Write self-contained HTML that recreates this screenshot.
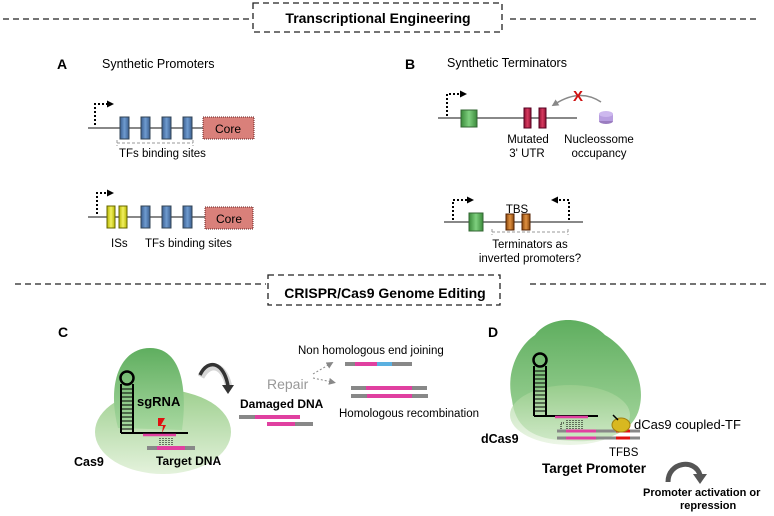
<!DOCTYPE html>
<html><head><meta charset="utf-8"><style>body{margin:0;background:#fff}svg{display:block}text{font-family:"Liberation Sans",sans-serif}</style></head><body>
<svg width="774" height="516" viewBox="0 0 774 516" xmlns="http://www.w3.org/2000/svg">
<defs>
<marker id="ah" markerUnits="userSpaceOnUse" markerWidth="7" markerHeight="7" refX="3" refY="3.5" orient="auto"><path d="M0,0 L7,3.5 L0,7z" fill="#000"/></marker>
<marker id="ag" markerUnits="userSpaceOnUse" markerWidth="7" markerHeight="7" refX="3" refY="3.5" orient="auto"><path d="M0,0 L7,3.5 L0,7z" fill="#888"/></marker>
<linearGradient id="bl" x1="0" x2="1"><stop offset="0" stop-color="#3a5f8f"/><stop offset=".5" stop-color="#6f9bd0"/><stop offset="1" stop-color="#3a5f8f"/></linearGradient>
<linearGradient id="yl" x1="0" x2="1"><stop offset="0" stop-color="#b8b800"/><stop offset=".5" stop-color="#f2f060"/><stop offset="1" stop-color="#b8b800"/></linearGradient>
<linearGradient id="rd" x1="0" x2="1"><stop offset="0" stop-color="#8a1030"/><stop offset=".5" stop-color="#d83a60"/><stop offset="1" stop-color="#8a1030"/></linearGradient>
<linearGradient id="gr" x1="0" x2="1"><stop offset="0" stop-color="#3a8a3a"/><stop offset=".5" stop-color="#7fd07f"/><stop offset="1" stop-color="#3a8a3a"/></linearGradient>
<linearGradient id="or" x1="0" x2="1"><stop offset="0" stop-color="#8a4a10"/><stop offset=".5" stop-color="#e09040"/><stop offset="1" stop-color="#8a4a10"/></linearGradient>
<linearGradient id="g1" x1="0" y1="0" x2="0" y2="1"><stop offset="0" stop-color="#5fae5f"/><stop offset="1" stop-color="#a8d8a0"/></linearGradient>
<linearGradient id="g2" x1="0" y1="0" x2="0" y2="1"><stop offset="0" stop-color="#9fd090"/><stop offset="1" stop-color="#e4f2dc"/></linearGradient>
</defs>
<g stroke="#222" stroke-width="1.3" stroke-dasharray="6,4" fill="none">
<line x1="3" y1="19" x2="250" y2="19"/><rect x="253" y="3" width="249" height="29"/><line x1="510" y1="19" x2="757" y2="19"/>
<line x1="15" y1="284" x2="266" y2="284"/><rect x="268" y="275" width="232" height="30"/><line x1="530" y1="284" x2="766" y2="284"/>
</g>
<text x="378" y="23" font-size="14" font-weight="bold" text-anchor="middle">Transcriptional Engineering</text>
<text x="385" y="298" font-size="14" font-weight="bold" text-anchor="middle">CRISPR/Cas9 Genome Editing</text>
<!-- A -->
<text x="57" y="69" font-size="14" font-weight="bold">A</text>
<text x="102" y="68" font-size="12.5">Synthetic Promoters</text>
<line x1="88" y1="128" x2="205" y2="128" stroke="#888" stroke-width="2"/>
<g fill="url(#bl)" stroke="#345"><rect x="120" y="117" width="9" height="22"/><rect x="141" y="117" width="9" height="22"/><rect x="162" y="117" width="9" height="22"/><rect x="183" y="117" width="9" height="22"/></g>
<rect x="203" y="117" width="51" height="22" fill="#d9807a" stroke="#622" stroke-dasharray="1,1"/>
<text x="228" y="133" font-size="12" text-anchor="middle">Core</text>
<path d="M95,125 V104 H110" stroke="#000" stroke-width="2" stroke-dasharray="2,2" fill="none" marker-end="url(#ah)"/>
<path d="M117,143 H193 M117,140 V146 M193,140 V146" stroke="#999" stroke-dasharray="3,2"/>
<text x="119" y="157" font-size="11.5">TFs binding sites</text>
<line x1="88" y1="217" x2="205" y2="217" stroke="#888" stroke-width="2"/>
<g fill="url(#yl)" stroke="#660"><rect x="107" y="206" width="8" height="22"/><rect x="119" y="206" width="8" height="22"/></g>
<g fill="url(#bl)" stroke="#345"><rect x="141" y="206" width="9" height="22"/><rect x="162" y="206" width="9" height="22"/><rect x="183" y="206" width="9" height="22"/></g>
<rect x="205" y="207" width="48" height="22" fill="#d9807a" stroke="#622" stroke-dasharray="1,1"/>
<text x="229" y="223" font-size="12" text-anchor="middle">Core</text>
<path d="M97,214 V193 H110" stroke="#000" stroke-width="2" stroke-dasharray="2,2" fill="none" marker-end="url(#ah)"/>
<text x="111" y="247" font-size="11.5">ISs</text><text x="145" y="247" font-size="11.5">TFs binding sites</text>
<!-- B -->
<text x="405" y="69" font-size="14" font-weight="bold">B</text>
<text x="447" y="67" font-size="12.5">Synthetic Terminators</text>
<line x1="438" y1="118" x2="577" y2="118" stroke="#888" stroke-width="2"/>
<rect x="461" y="110" width="16" height="17" fill="url(#gr)" stroke="#363"/>
<g fill="url(#rd)" stroke="#502"><rect x="524" y="108" width="7" height="20"/><rect x="539" y="108" width="7" height="20"/></g>
<path d="M447,116 V94 H463" stroke="#000" stroke-width="2" stroke-dasharray="2,2" fill="none" marker-end="url(#ah)"/>
<ellipse cx="606" cy="121" rx="7" ry="3" fill="#9a7cc0"/><rect x="599" y="114" width="14" height="7" fill="#b89ee0"/><ellipse cx="606" cy="114" rx="7" ry="3" fill="#cdb8ee"/>
<path d="M601,102 Q580,88 555,104" stroke="#888" stroke-width="1.5" fill="none" marker-end="url(#ag)"/>
<text x="578" y="101" font-size="15" font-weight="bold" fill="#d01010" text-anchor="middle">X</text>
<text x="528" y="143" font-size="11.5" text-anchor="middle">Mutated</text><text x="527" y="157" font-size="11.5" text-anchor="middle">3' UTR</text>
<text x="599" y="143" font-size="11.5" text-anchor="middle">Nucleossome</text><text x="599" y="157" font-size="11.5" text-anchor="middle">occupancy</text>
<line x1="444" y1="222" x2="583" y2="222" stroke="#888" stroke-width="2"/>
<rect x="469" y="213" width="14" height="18" fill="url(#gr)" stroke="#363"/>
<g fill="url(#or)" stroke="#520"><rect x="506" y="214" width="8" height="16"/><rect x="522" y="214" width="8" height="16"/></g>
<text x="517" y="213" font-size="11.5" text-anchor="middle">TBS</text>
<path d="M453,220 V200 H470" stroke="#000" stroke-width="2" stroke-dasharray="2,2" fill="none" marker-end="url(#ah)"/>
<path d="M569,220 V200 H555" stroke="#000" stroke-width="2" stroke-dasharray="2,2" fill="none" marker-end="url(#ah)"/>
<path d="M492,232 H568 M492,229 V235 M568,229 V235" stroke="#999" stroke-dasharray="3,2"/>
<text x="530" y="248" font-size="11.5" text-anchor="middle">Terminators as</text><text x="530" y="262" font-size="11.5" text-anchor="middle">inverted promoters?</text>
<!-- C -->
<text x="58" y="337" font-size="14" font-weight="bold">C</text>
<ellipse cx="163" cy="432" rx="68" ry="42" fill="url(#g2)"/>
<path d="M118,428 C106,380 122,348 150,348 C180,348 188,385 182,430 Z" fill="url(#g1)"/>
<circle cx="127" cy="378" r="6.5" fill="none" stroke="#000" stroke-width="2.5"/>
<path d="M121,384 V433 M133,384 V433 M121,433 H188" stroke="#000" stroke-width="2"/>
<path d="M121,389 H133 M121,393 H133 M121,397 H133 M121,401 H133 M121,405 H133 M121,409 H133 M121,413 H133 M121,417 H133 M121,421 H133 M121,425 H133 M121,429 H133" stroke="#000"/>
<line x1="143" y1="435" x2="176" y2="435" stroke="#e040a0" stroke-width="2.5"/>
<path d="M160,438 V446 M163,438 V446 M166,438 V446 M169,438 V446 M172,438 V446" stroke="#000" stroke-dasharray="1,1"/>
<line x1="147" y1="448" x2="195" y2="448" stroke="#888" stroke-width="4"/><line x1="157" y1="448" x2="185" y2="448" stroke="#e040a0" stroke-width="4"/>
<path d="M158,418 L165,418 L161,425 L166,425 L162,433 L163,426 L158,426 Z" fill="#e01010"/>
<text x="137" y="406" font-size="13" font-weight="bold">sgRNA</text>
<text x="74" y="466" font-size="12.5" font-weight="bold">Cas9</text>
<text x="156" y="465" font-size="12" font-weight="bold">Target DNA</text>
<path d="M201,377 C210,360 225,365 229,388" stroke="#bbb" stroke-width="7" fill="none" opacity=".6"/>
<path d="M200,375 C208,358 224,362 228,386" stroke="#333" stroke-width="3.5" fill="none"/>
<path d="M222,385 L234,385 L228,394 Z" fill="#333"/>
<text x="267" y="389" font-size="14" fill="#999">Repair</text>
<path d="M313,374 L330,364" stroke="#888" stroke-dasharray="2,2" marker-end="url(#ag)"/>
<path d="M313,378 L332,382" stroke="#888" stroke-dasharray="2,2" marker-end="url(#ag)"/>
<text x="298" y="354" font-size="11.5">Non homologous  end joining</text>
<g stroke-width="4"><line x1="345" y1="364" x2="412" y2="364" stroke="#888"/><line x1="355" y1="364" x2="377" y2="364" stroke="#e040a0"/><line x1="377" y1="364" x2="392" y2="364" stroke="#5ab0e0"/>
<line x1="351" y1="388" x2="427" y2="388" stroke="#888"/><line x1="366" y1="388" x2="412" y2="388" stroke="#e040a0"/>
<line x1="351" y1="396" x2="428" y2="396" stroke="#888"/><line x1="367" y1="396" x2="412" y2="396" stroke="#e040a0"/>
<line x1="239" y1="417" x2="300" y2="417" stroke="#888"/><line x1="255" y1="417" x2="300" y2="417" stroke="#e040a0"/>
<line x1="267" y1="424" x2="313" y2="424" stroke="#888"/><line x1="267" y1="424" x2="295" y2="424" stroke="#e040a0"/></g>
<text x="339" y="417" font-size="11.5">Homologous  recombination</text>
<text x="240" y="408" font-size="12" font-weight="bold">Damaged  DNA</text>
<!-- D -->
<text x="488" y="337" font-size="14" font-weight="bold">D</text>
<path d="M512,400 C505,370 520,345 535,335 C550,315 585,315 605,335 C630,350 645,380 640,405 C635,435 600,445 560,440 C530,438 515,425 512,400 Z" fill="url(#g1)"/>
<ellipse cx="570" cy="415" rx="60" ry="30" fill="url(#g2)" opacity=".7"/>
<circle cx="540" cy="360" r="6.5" fill="none" stroke="#000" stroke-width="2.5"/>
<path d="M534,366 V416 M546,366 V416 M534,416 H598" stroke="#000" stroke-width="2"/>
<path d="M534,371 H546 M534,375 H546 M534,379 H546 M534,383 H546 M534,387 H546 M534,391 H546 M534,395 H546 M534,399 H546 M534,403 H546 M534,407 H546 M534,411 H546" stroke="#000"/>
<line x1="555" y1="417" x2="588" y2="417" stroke="#e040a0" stroke-width="2.5"/>
<path d="M567,420 V429 M570,420 V429 M573,420 V429 M576,420 V429 M579,420 V429 M582,420 V429" stroke="#000" stroke-dasharray="1,1"/>
<path d="M561,429 V423 H565" stroke="#000" stroke-dasharray="1,1" fill="none"/>
<g stroke-width="3"><line x1="557" y1="431" x2="640" y2="431" stroke="#888"/><line x1="557" y1="438" x2="640" y2="438" stroke="#888"/>
<line x1="566" y1="431" x2="596" y2="431" stroke="#e040a0"/><line x1="566" y1="438" x2="596" y2="438" stroke="#e040a0"/>
<line x1="616" y1="431" x2="630" y2="431" stroke="#e01010"/><line x1="616" y1="438" x2="630" y2="438" stroke="#e01010"/></g>
<ellipse cx="621" cy="425" rx="9" ry="7" fill="#d8b820" stroke="#a08010"/>
<line x1="613" y1="415" x2="618" y2="420" stroke="#000" stroke-width="1.5"/>
<text x="634" y="429" font-size="13">dCas9 coupled-TF</text>
<text x="609" y="456" font-size="11.5">TFBS</text>
<text x="542" y="473" font-size="13.5" font-weight="bold">Target Promoter</text>
<text x="481" y="443" font-size="12.5" font-weight="bold">dCas9</text>
<path d="M668,482 C668,462 695,458 700,475" stroke="#555" stroke-width="5" fill="none"/>
<path d="M693,474 L707,474 L700,484 Z" fill="#555"/>
<text x="643" y="496" font-size="11" font-weight="bold">Promoter activation  or</text>
<text x="680" y="509" font-size="11" font-weight="bold">repression</text>
</svg>
</body></html>
